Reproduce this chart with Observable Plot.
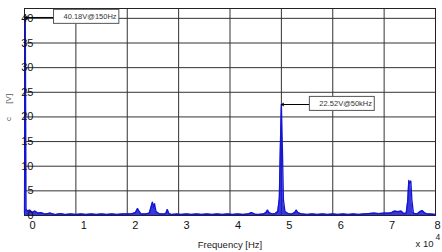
<!DOCTYPE html>
<html><head><meta charset="utf-8">
<script src="https://cdn.jsdelivr.net/npm/d3@7"></script>
<script src="https://cdn.jsdelivr.net/npm/@observablehq/plot@0.6"></script>
<style>body{margin:0;background:#fff} svg{font-family:"Liberation Sans",Arial,sans-serif}</style>
</head><body><div id="chart"></div>
<script>
const freqHz = [0,150,300,600,1000,1500,2000,2600,3200,4000,5000,6000,7000,8000,9000,10000,11000,12000,13000,14000,15000,16000,17000,18000,19000,20000,21000,21600,22000,22300,22700,23500,24300,24700,24900,25100,25300,25600,26300,27000,27500,27800,28100,28700,29500,30500,31500,32500,33500,34500,35500,36500,37500,38500,39500,40500,41500,42500,43500,44200,44800,45500,46500,47000,47300,47600,48200,48800,49300,49600,49800,50000,50200,50400,50700,51300,52000,52600,52900,53200,54000,55000,56000,57000,58000,59000,60000,61000,62000,63000,64000,65000,66000,67000,68000,69000,70000,71000,71500,72000,72700,73300,73800,74300,74600,74800,75000,75200,75400,75700,76400,77000,77400,77800,78400,79000,80000];
const amplitudeV = [0.6,40.18,1.3,0.9,1.1,0.6,0.9,0.5,0.6,0.3,0.5,0.2,0.4,0.2,0.3,0.2,0.3,0.2,0.3,0.2,0.3,0.2,0.3,0.2,0.3,0.3,0.4,0.6,1.4,0.9,0.3,0.3,0.5,2.0,2.7,1.6,2.4,0.8,0.3,0.3,0.4,1.2,0.4,0.2,0.3,0.2,0.3,0.2,0.3,0.2,0.3,0.2,0.3,0.2,0.3,0.2,0.3,0.2,0.3,0.6,0.3,0.2,0.3,0.6,1.1,0.6,0.3,0.4,0.8,3.5,13.9,22.52,13.5,3.2,0.8,0.4,0.3,0.6,1.1,0.6,0.3,0.2,0.3,0.2,0.3,0.2,0.3,0.2,0.3,0.2,0.3,0.2,0.3,0.4,0.5,0.4,0.5,0.5,0.6,0.9,0.8,0.9,0.4,0.5,3.0,7.1,6.6,7.0,3.2,0.5,0.3,0.8,1.0,0.6,0.3,0.3,0.2];
const xTicks = [0,10000,20000,30000,40000,50000,60000,70000,80000];
const xTickLabels = ["0","1","2","3","4","5","6","7","8"];
const yTicks = [0,5,10,15,20,25,30,35,40];
const annotFreq = [150, 50000];
const annotValue = [40.18, 22.52];
const annotBoxFreq = [5650, 55450];
const annotText = ["40.18V@150Hz", "22.52V@50kHz"];

const data = freqHz.map((f, i) => ({f, v: amplitudeV[i]}));
const notes = annotFreq.map((f, i) => ({f, v: annotValue[i], fb: annotBoxFreq[i], text: annotText[i]}));
const blue = "#1414d6";
const grid = "#333";
const xFmt = d => xTickLabels[xTicks.indexOf(d)];

const chart = Plot.plot({
  width: 442, height: 252,
  marginLeft: 24, marginRight: 7, marginTop: 8, marginBottom: 37,
  x: {domain: [0, 80000]},
  y: {domain: [0, 42]},
  style: {fontFamily: '"Liberation Sans", Arial, sans-serif', fontSize: "11px", background: "#fff", color: "#111"},
  marks: [
    Plot.gridX(xTicks, {stroke: grid, strokeOpacity: 1}),
    Plot.gridY(yTicks, {stroke: grid, strokeOpacity: 1}),
    Plot.frame({stroke: "#222"}),
    Plot.areaY(data, {x: "f", y: "v", fill: blue, fillOpacity: 0.85}),
    Plot.line(data, {x: "f", y: "v", stroke: blue, strokeWidth: 1.3}),
    Plot.axisX(xTicks.slice(0, -1), {tickFormat: xFmt, tickSize: 0, tickPadding: 6, dx: 8, fontSize: 11, label: null}),
    Plot.axisX(xTicks.slice(-1), {tickFormat: xFmt, tickSize: 0, tickPadding: 6, dx: 2, fontSize: 11, label: null}),
    Plot.axisY(yTicks, {tickSize: 0, tickPadding: -9, fontSize: 11, label: null}),
    Plot.arrow(notes, {x1: "fb", y1: "v", x2: "f", y2: "v", bend: 0, headLength: 4, stroke: "#000", strokeWidth: 1}),
    Plot.text(notes, {x: "fb", y: "v", text: "text", textAnchor: "start", dx: 10, dy: -1, fontSize: 7.5, fill: "#333", className: "note"}),
    Plot.text(["Frequency [Hz]"], {frameAnchor: "bottom", dy: 32, fontSize: 9.5, fill: "#222"}),
    Plot.text(["x 10"], {frameAnchor: "bottom-right", textAnchor: "end", dx: -2, dy: 31, fontSize: 9.5, fill: "#222"}),
    Plot.text(["4"], {frameAnchor: "bottom-right", textAnchor: "start", dx: 0, dy: 24.5, fontSize: 8.5, fill: "#222"}),
    Plot.text(["c      [V]"], {frameAnchor: "left", rotate: -90, dx: -16, dy: 9, fontSize: 8, fill: "#555"})
  ]
});
document.getElementById("chart").append(chart);

// draw the white annotation boxes behind the labels
chart.querySelectorAll("g.note text").forEach(t => {
  const b = t.getBBox();
  const ctm = t.getAttribute("transform");
  const r = document.createElementNS("http://www.w3.org/2000/svg", "rect");
  r.setAttribute("x", b.x - 10);
  r.setAttribute("y", b.y + b.height / 2 - 7);
  r.setAttribute("width", b.width + 12);
  r.setAttribute("height", 14);
  r.setAttribute("fill", "#fff");
  r.setAttribute("stroke", "#555");
  r.setAttribute("stroke-width", 1);
  if (ctm) r.setAttribute("transform", ctm);
  t.parentNode.insertBefore(r, t);
});
</script>
</body></html>
